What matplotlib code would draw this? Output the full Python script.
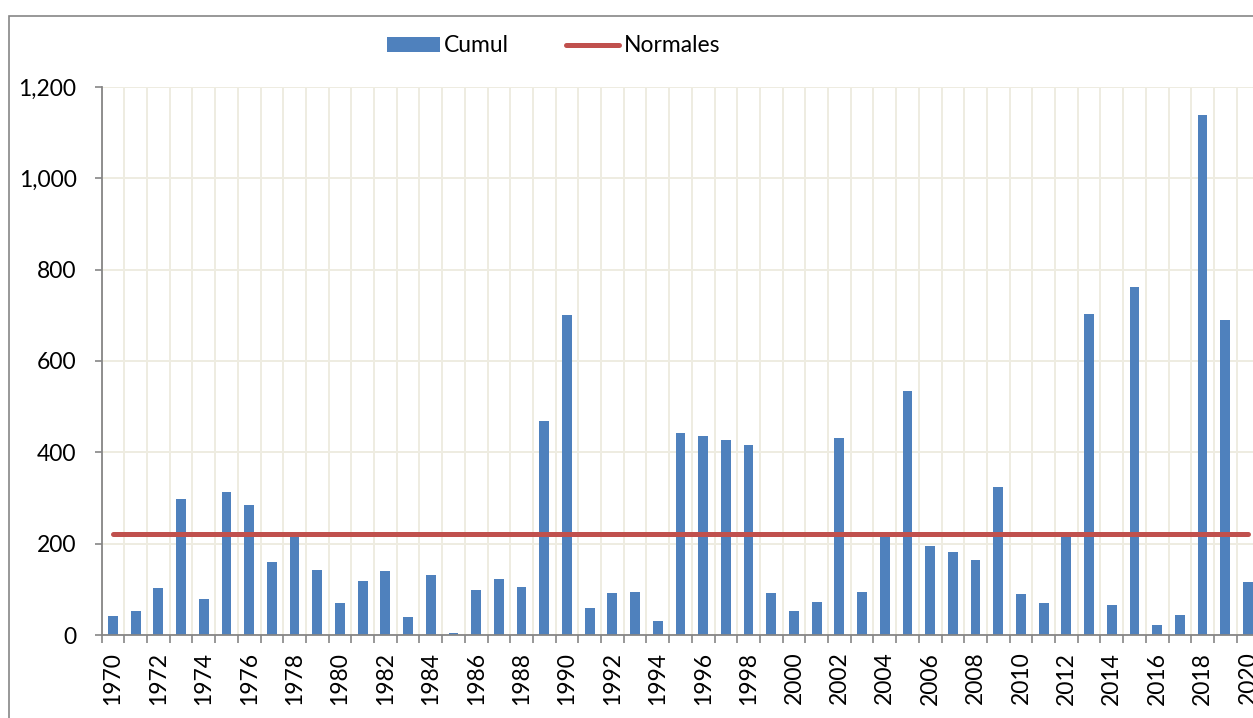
import numpy as np
import matplotlib
matplotlib.use("Agg")
import matplotlib.pyplot as plt
from matplotlib.patches import Rectangle
from matplotlib.ticker import FuncFormatter

plt.rcParams["font.family"] = ["Lato", "DejaVu Sans"]

years = list(range(1970, 2021))
cumul = [42, 52, 104, 298, 78, 314, 285, 159, 214, 142,
         70, 118, 140, 39, 131, 4, 99, 123, 105, 469,
         701, 60, 92, 94, 30, 442, 436, 427, 416, 91,
         53, 72, 431, 94, 215, 534, 194, 182, 165, 324,
         89, 70, 218, 703, 65, 761, 22, 43, 1138, 689,
         115]
normale = 221  # constant reference line

BAR = "#4F81BD"
RED = "#C0504D"
GRID = "#EEECE1"
AXIS = "#868686"
FS = 16.5

W, H = 1253, 718
fig = plt.figure(figsize=(W / 100, H / 100), dpi=100)
ax = fig.add_axes([101.6 / W, 83 / H, 1157.7 / W, 548 / H])

x = np.arange(len(years))
bars = ax.bar(x, cumul, width=0.43, color=BAR, zorder=2, label="Cumul")
line, = ax.plot(x, [normale] * len(x), color=RED, lw=3.6,
                solid_capstyle="round", zorder=3, label="Normales",
                clip_on=False)

ax.set_xlim(-0.5, len(years) - 0.5)
ax.set_ylim(0, 1200)

ax.set_xticks(x[::2])
ax.set_xticklabels([str(y) for y in years[::2]], rotation=90, fontsize=FS)
ax.set_xticks(np.arange(-0.5, len(years), 1), minor=True)
ax.tick_params(axis="x", which="major", length=0, pad=12)
ax.tick_params(axis="x", which="minor", length=6, width=1.2, color=AXIS)

ax.set_yticks(np.arange(0, 1201, 200))
ax.yaxis.set_major_formatter(FuncFormatter(lambda v, p: f"{int(v):,}"))
ax.tick_params(axis="y", length=5, width=1.2, color=AXIS, pad=13,
               labelsize=FS)

ax.grid(axis="x", which="minor", color=GRID, lw=1.4)
ax.grid(axis="y", which="major", color=GRID, lw=1.4)
ax.set_axisbelow(True)

for s in ("top", "right"):
    ax.spines[s].set_visible(False)
for s in ("left", "bottom"):
    ax.spines[s].set_color(AXIS)
    ax.spines[s].set_linewidth(1.3)
    ax.spines[s].set_zorder(4)

fig.legend([bars, line], ["Cumul", "Normales"], loc="center",
           bbox_to_anchor=(553.5 / W, 1 - 46 / H), ncol=2,
           frameon=False, fontsize=FS, handlelength=2.3, handleheight=0.65,
           handletextpad=0.2, columnspacing=2.5, borderpad=0)

# outer chart border
fig.add_artist(Rectangle((8.5 / W, -0.1), 2, 0.1 + (H - 15.5) / H,
                         transform=fig.transFigure, fill=False,
                         ec=AXIS, lw=1.2))

fig.savefig("out.png", dpi=100)
